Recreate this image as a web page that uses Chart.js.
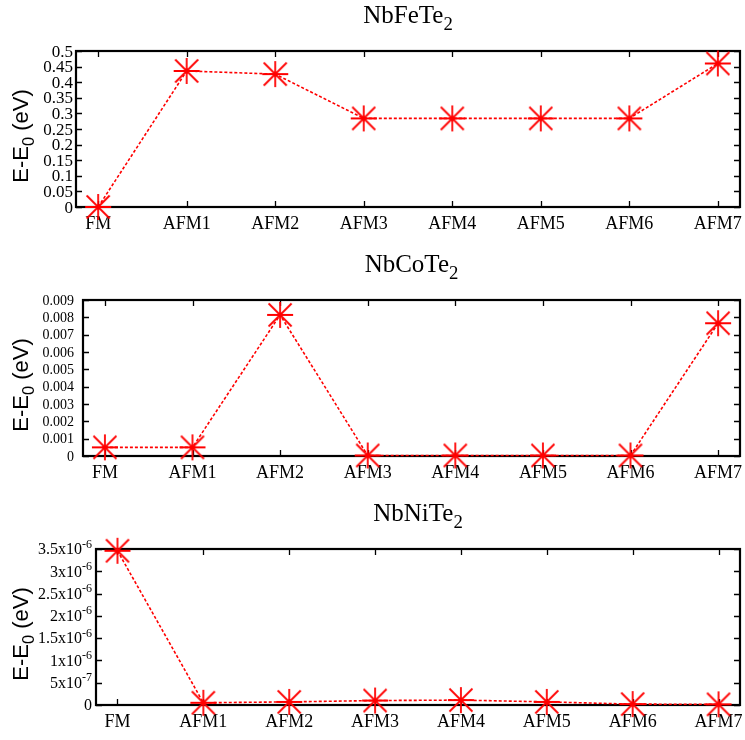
<!DOCTYPE html>
<html><head><meta charset="utf-8">
<script src="https://cdn.jsdelivr.net/npm/chart.js@4/dist/chart.umd.min.js"></script>
<style>
html,body{margin:0;padding:0;background:#fff;width:745px;height:740px;overflow:hidden;}
canvas{position:absolute;left:0;}
</style></head><body>
<canvas id="c1" style="top:0px" width="745" height="249"></canvas>
<canvas id="c2" style="top:249px" width="745" height="249"></canvas>
<canvas id="c3" style="top:498px" width="745" height="242"></canvas>
<script>
const categories = ['FM','AFM1','AFM2','AFM3','AFM4','AFM5','AFM6','AFM7'];
const feValues = [0, 0.436, 0.426, 0.284, 0.284, 0.284, 0.284, 0.460];
const coValues = [0.0005, 0.0005, 0.00814, 0.00003, 0.00003, 0.00003, 0.00003, 0.00766];
const niValues = [3.46e-6, 5e-8, 7e-8, 1e-7, 1.1e-7, 7e-8, 2e-8, 1.5e-8];
const feTicks = ['0','0.05','0.1','0.15','0.2','0.25','0.3','0.35','0.4','0.45','0.5'];
const coTicks = ['0','0.001','0.002','0.003','0.004','0.005','0.006','0.007','0.008','0.009'];
const niTicks = ['0','5x10^-7','1x10^-6','1.5x10^-6','2x10^-6','2.5x10^-6','3x10^-6','3.5x10^-6'];
const feStep = 0.05, coStep = 0.001, niStep = 5e-7;
const titles = ['NbFeTe_2','NbCoTe_2','NbNiTe_2'];
const yTitle = 'E-E_0 (eV)';

// asterisk marker (gnuplot point type 3 look)
const marker = document.createElement('canvas');
marker.width = 30; marker.height = 30;
(function(){
  const m = marker.getContext('2d');
  m.strokeStyle = '#ff0000'; m.lineWidth = 1.8; m.lineCap = 'butt';
  const c = 15, r = 13, d = 11.5;
  m.beginPath();
  m.moveTo(c - r, c); m.lineTo(c + r, c);
  m.moveTo(c, c - r); m.lineTo(c, c + r);
  m.moveTo(c - d, c - d); m.lineTo(c + d, c + d);
  m.moveTo(c - d, c + d); m.lineTo(c + d, c - d);
  m.stroke();
})();

function parseRich(text){
  const segs = []; const re = /([_^])([^\s]+)/g; let last = 0, m;
  while ((m = re.exec(text))){
    if (m.index > last) segs.push({t:text.slice(last,m.index), k:''});
    segs.push({t:m[2], k:m[1]}); last = re.lastIndex;
  }
  if (last < text.length) segs.push({t:text.slice(last), k:''});
  return segs;
}
function drawRich(ctx, text, x, y, size, family, align){
  const segs = parseRich(text);
  const small = size*0.75;
  let w = 0;
  segs.forEach(s => { ctx.font = (s.k ? small : size) + 'px ' + family; s.w = ctx.measureText(s.t).width; w += s.w; });
  let cx = align === 'center' ? x - w/2 : (align === 'right' ? x - w : x);
  ctx.textAlign = 'left'; ctx.textBaseline = 'alphabetic';
  segs.forEach(s => {
    ctx.font = (s.k ? small : size) + 'px ' + family;
    const dy = s.k === '_' ? size*0.28 : (s.k === '^' ? -size*0.42 : 0);
    ctx.fillText(s.t, cx, y + dy); cx += s.w;
  });
}

function makePanel(id, values, tickLabels, step, cfg){
  const canvas = document.getElementById(id);
  const H = canvas.height;
  const framePlugin = {
    id: 'frame',
    beforeDatasetsDraw(chart){
      const ctx = chart.ctx, a = chart.chartArea;
      const xs = chart.scales.x, ys = chart.scales.y;
      ctx.save();
      ctx.strokeStyle = '#000'; ctx.lineWidth = 1.3;
      ctx.beginPath();
      xs.ticks.forEach(t => {
        const px = Math.round(xs.getPixelForValue(t.value)) + 0.5;
        ctx.moveTo(px, a.bottom); ctx.lineTo(px, a.bottom - 6);
        ctx.moveTo(px, a.top); ctx.lineTo(px, a.top + 6);
      });
      ys.ticks.forEach(t => {
        const py = Math.round(ys.getPixelForValue(t.value)) + 0.5;
        ctx.moveTo(a.left, py); ctx.lineTo(a.left + 6, py);
        ctx.moveTo(a.right, py); ctx.lineTo(a.right - 6, py);
      });
      ctx.stroke();
      ctx.lineWidth = 2.2;
      ctx.strokeRect(a.left, a.top, a.right - a.left, a.bottom - a.top);
      ctx.restore();
    },
    afterDraw(chart){
      const ctx = chart.ctx, a = chart.chartArea, ys = chart.scales.y;
      ctx.save();
      ctx.fillStyle = '#000';
      drawRich(ctx, cfg.title, (a.left + a.right)/2, 23, 25, '"Liberation Serif", serif', 'center');
      ys.ticks.forEach((t, i) => {
        const py = ys.getPixelForValue(t.value);
        drawRich(ctx, tickLabels[i], a.left - cfg.pad, py + cfg.tickSize*0.33, cfg.tickSize, '"Liberation Serif", serif', 'right');
      });
      ctx.translate(20, (a.top + a.bottom)/2 + 7);
      ctx.rotate(-Math.PI/2);
      drawRich(ctx, yTitle, 0, 8, 22, '"Liberation Sans", Arial, sans-serif', 'center');
      ctx.restore();
    }
  };
  return new Chart(canvas, {
    type: 'line',
    data: { datasets: [{
      data: values.map((v, i) => ({x: i, y: v})),
      borderColor: '#ff0000', borderWidth: 1.6, borderDash: [3, 2],
      pointStyle: marker, pointRadius: 13, pointHoverRadius: 13,
      clip: false, tension: 0, fill: false
    }]},
    options: {
      responsive: false, animation: false, events: [],
      layout: { autoPadding: false, padding: { top: 51, left: 0, right: 5, bottom: 0 } },
      plugins: { legend: { display: false }, tooltip: { enabled: false }, title: { display: false } },
      scales: {
        x: {
          type: 'linear', min: -0.25, max: 7.25,
          afterBuildTicks: s => { s.ticks = categories.map((c, i) => ({value: i})); },
          afterFit: s => { s.height = H - 207; s.paddingLeft = 0; s.paddingRight = 0; },
          grid: { display: false }, border: { display: false },
          ticks: { callback: v => categories[v], font: { family: '"Liberation Serif", serif', size: 18 }, color: '#000', padding: -2, maxRotation: 0, autoSkip: false }
        },
        y: {
          type: 'linear', min: 0, max: step * (tickLabels.length - 1),
          afterBuildTicks: s => { s.ticks = tickLabels.map((l, i) => ({value: i * step})); },
          afterFit: s => { s.width = cfg.left; s.paddingTop = 0; s.paddingBottom = 0; },
          grid: { display: false }, border: { display: false },
          ticks: { display: false }
        }
      }
    },
    plugins: [framePlugin]
  });
}

makePanel('c1', feValues, feTicks, feStep, {title: titles[0], left: 76, pad: 3, tickSize: 17});
makePanel('c2', coValues, coTicks, coStep, {title: titles[1], left: 83, pad: 9, tickSize: 14});
makePanel('c3', niValues, niTicks, niStep, {title: titles[2], left: 96, pad: 4, tickSize: 16});
</script>
</body></html>
